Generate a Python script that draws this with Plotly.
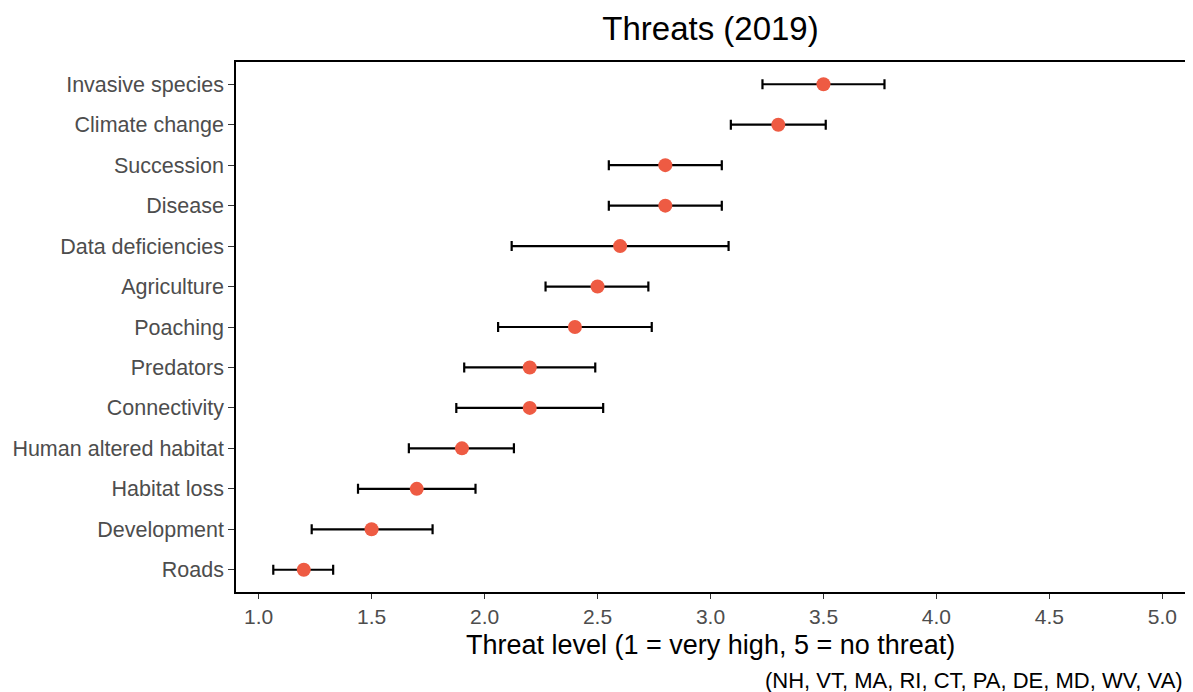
import plotly.graph_objects as go

# ==================== DATA ====================
threats = [
    "Invasive species", "Climate change", "Succession", "Disease",
    "Data deficiencies", "Agriculture", "Poaching", "Predators",
    "Connectivity", "Human altered habitat", "Habitat loss",
    "Development", "Roads",
]
mean_level = [3.5, 3.3, 2.8, 2.8, 2.6, 2.5, 2.4, 2.2, 2.2, 1.9, 1.7, 1.5, 1.2]
ci_low = [3.23, 3.09, 2.55, 2.55, 2.12, 2.27, 2.06, 1.91, 1.875, 1.665, 1.44, 1.235, 1.065]
ci_high = [3.77, 3.51, 3.05, 3.05, 3.08, 2.725, 2.74, 2.49, 2.525, 2.13, 1.96, 1.77, 1.33]
x_ticks = [1.0, 1.5, 2.0, 2.5, 3.0, 3.5, 4.0, 4.5, 5.0]

TEXT_COLOR = '#4d4d4d'
POINT_COLOR = '#EE5B43'
FONT = 'Liberation Sans, Arial, sans-serif'

err_plus = [h - m for h, m in zip(ci_high, mean_level)]
err_minus = [m - l for m, l in zip(mean_level, ci_low)]

fig = go.Figure()
fig.add_trace(go.Scatter(
    x=mean_level,
    y=threats,
    mode='markers',
    marker=dict(color=POINT_COLOR, size=14),
    error_x=dict(
        type='data', symmetric=False,
        array=err_plus, arrayminus=err_minus,
        color='black', thickness=2.2, width=5,
    ),
    showlegend=False,
))

fig.update_layout(
    title=dict(
        text="Threats (2019)", x=(228 + 1177) / 2 / 1185, xanchor='center',
        y=1 - 20 / 684, yanchor='middle',
        font=dict(size=33, color='black', family=FONT),
    ),
    xaxis=dict(
        range=[0.9, 5.1],
        tickvals=x_ticks,
        ticktext=[f"{v:.1f}" for v in x_ticks],
        showgrid=False, zeroline=False, automargin=False,
        showline=True, linecolor='black', linewidth=1.5, mirror=True,
        ticks='outside', ticklen=5, tickcolor='#333333', tickwidth=1.2,
        tickfont=dict(size=21, color=TEXT_COLOR, family=FONT),
    ),
    yaxis=dict(
        categoryorder='array', categoryarray=threats[::-1],
        range=[-0.55, 12.55],
        showgrid=False, zeroline=False, automargin=False,
        showline=True, linecolor='black', linewidth=1.5, mirror=True,
        ticks='outside', ticklen=6, tickcolor='#333333', tickwidth=1.2,
        tickfont=dict(size=21.5, color=TEXT_COLOR, family=FONT),
    ),
    annotations=[
        dict(
            text="Threat level (1 = very high, 5 = no threat)",
            xref='paper', yref='paper', x=0.5, y=-53 / 530,
            xanchor='center', yanchor='middle', showarrow=False,
            font=dict(size=27, color='black', family=FONT),
        ),
        dict(
            text="(NH, VT, MA, RI, CT, PA, DE, MD, WV, VA)",
            xref='paper', yref='paper', x=1.0, y=-88 / 530,
            xanchor='right', yanchor='middle', showarrow=False,
            font=dict(size=22, color='black', family=FONT),
        ),
    ],
    paper_bgcolor='white',
    plot_bgcolor='white',
    margin=dict(l=228, r=8, t=54, b=100),
    width=1185, height=684,
)

fig.write_html("out.html")
